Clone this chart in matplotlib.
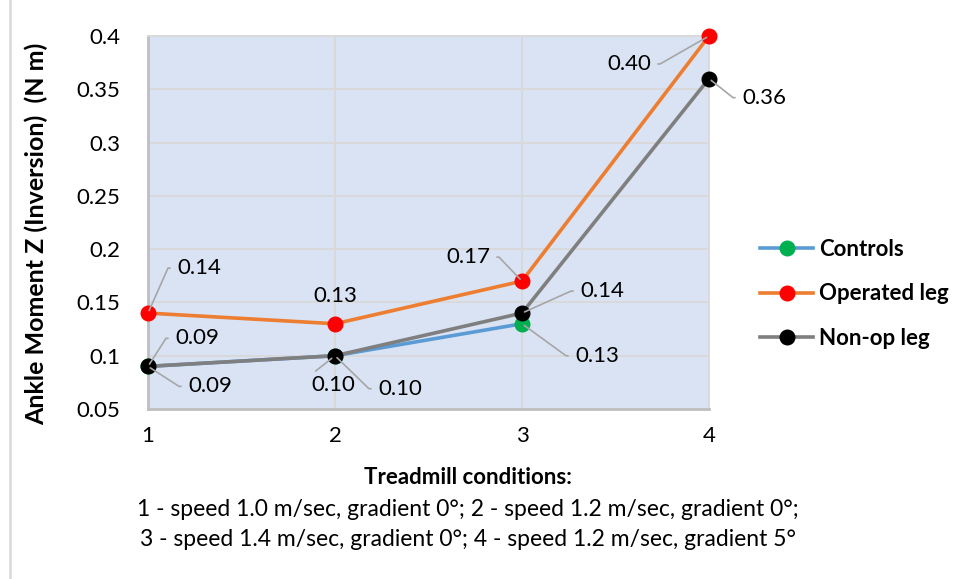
import math
import numpy as np
import matplotlib
matplotlib.use('Agg')
import matplotlib.pyplot as plt
from matplotlib.lines import Line2D

plt.rcParams['font.family'] = ['Lato', 'DejaVu Sans']

conditions = [1, 2, 3, 4]
controls = [0.09, 0.10, 0.13, np.nan]
operated = [0.14, 0.13, 0.17, 0.40]
nonop = [0.09, 0.10, 0.14, 0.36]
series_names = ['Controls', 'Operated leg', 'Non-op leg']
yticks = [0.05, 0.1, 0.15, 0.2, 0.25, 0.3, 0.35, 0.4]
ytick_labels = ['0.05', '0.1', '0.15', '0.2', '0.25', '0.3', '0.35', '0.4']
notes = ['1 - speed 1.0 m/sec, gradient 0°; 2 - speed 1.2 m/sec, gradient 0°;',
         '3 - speed 1.4 m/sec, gradient 0°; 4 - speed 1.2 m/sec, gradient 5°']

FS = 16

fig = plt.figure(figsize=(9.58, 5.79), dpi=100)
ax = fig.add_axes([148 / 958, 1 - 409 / 579, 561 / 958, 373 / 579])
ax.set_facecolor('#DAE3F3')

series = [controls, operated, nonop]
line_colors = ['#5B9BD5', '#ED7D31', '#7F7F7F']
marker_colors = ['#00B050', '#FF0000', '#000000']
for vals, name, lc, mc in zip(series, series_names, line_colors, marker_colors):
    ax.plot(conditions, vals, color=lc, lw=2.6, marker='o', ms=10.5,
            mfc=mc, mec=mc, label=name, zorder=3, clip_on=False)

ax.set_xlim(1, 4)
ax.set_ylim(0.05, 0.4)
ax.set_xticks(conditions)
ax.set_yticks(yticks)
ax.set_yticklabels(ytick_labels)
ax.tick_params(length=0, labelsize=FS, pad=12)
ax.tick_params(axis='y', pad=20)
ax.grid(True, color='#D9D9D9', lw=1.3)
ax.set_axisbelow(True)
for s in ['top', 'right']:
    ax.spines[s].set_color('#D9D9D9')
    ax.spines[s].set_linewidth(1.3)
for s in ['left', 'bottom']:
    ax.spines[s].set_color('#BFBFBF')
    ax.spines[s].set_linewidth(2)

# y title placed in figure coords, like the Excel chart
fig.text(36 / 958, 1 - 234 / 579, 'Ankle Moment Z (Inversion)  (N m)',
         rotation=90, ha='center', va='center', fontsize=18, fontweight='bold')


# data labels with Excel-style leader lines (offsets in pixels)
def label(x, y, txt, dx, dy, side, stub=9):
    if side == 'none':
        ax.annotate(txt, (x, y), xytext=(dx, dy), textcoords='offset pixels',
                    ha='center', va='center', fontsize=FS)
        return
    if side == 'below':
        ax.annotate(txt, (x, y), xytext=(dx, dy), textcoords='offset pixels',
                    ha='center', va='top', fontsize=FS,
                    arrowprops=dict(arrowstyle='-', color='#A6A6A6', lw=1.2,
                                    shrinkA=1, shrinkB=3, relpos=(0.0, 1.0)))
        return
    if side == 'right':
        ha, rel, cx = 'left', (0.0, 0.5), dx - stub
    else:
        ha, rel, cx = 'right', (1.0, 0.5), dx + stub
    angb = math.degrees(math.atan2(dy, cx))
    ax.annotate(txt, (x, y), xytext=(dx, dy), textcoords='offset pixels',
                ha=ha, va='center', fontsize=FS,
                arrowprops=dict(arrowstyle='-', color='#A6A6A6', lw=1.2,
                                shrinkA=3, shrinkB=2, relpos=rel,
                                connectionstyle='angle,angleA=0,angleB=%f,rad=0' % angb))


label_layout = [
    (operated, 0, 29, 45, 'right'),
    (operated, 1, 0, 28, 'none'),
    (operated, 2, -32, 24, 'left'),
    (operated, 3, -58, -28, 'left'),
    (controls, 0, 27, 28, 'right'),
    (controls, 1, -2, -19, 'below'),
    (controls, 2, 53, -32, 'right'),
    (nonop, 0, 40, -20, 'right'),
    (nonop, 1, 43, -33, 'right'),
    (nonop, 2, 58, 22, 'right'),
    (nonop, 3, 33, -19, 'right'),
]
for vals, i, dx, dy, side in label_layout:
    label(conditions[i], vals[i], '%.2f' % vals[i], dx, dy, side)

handles = [Line2D([0], [0], color=lc, lw=2.6, marker='o', ms=10.5, mfc=mc, mec=mc)
           for lc, mc in zip(line_colors, marker_colors)]
leg = fig.legend(handles, series_names, loc='center left',
                 bbox_to_anchor=(740 / 958, 1 - 294 / 579), frameon=False,
                 prop={'size': FS, 'weight': 'bold'}, handlelength=2.4,
                 handletextpad=0.25, labelspacing=1.05)

fig.text(468 / 958, 1 - 477 / 579, 'Treadmill conditions:', ha='center',
         va='center', fontsize=FS, fontweight='bold')
fig.text(468 / 958, 1 - 509 / 579, notes[0], ha='center', va='center', fontsize=FS + 0.5)
fig.text(468 / 958, 1 - 539 / 579, notes[1], ha='center', va='center', fontsize=FS + 0.5)

fig.add_artist(Line2D([10 / 958, 10 / 958], [0, 1], color='#D9D9D9', lw=1.8,
                      transform=fig.transFigure))

fig.savefig('out.png', dpi=100)
